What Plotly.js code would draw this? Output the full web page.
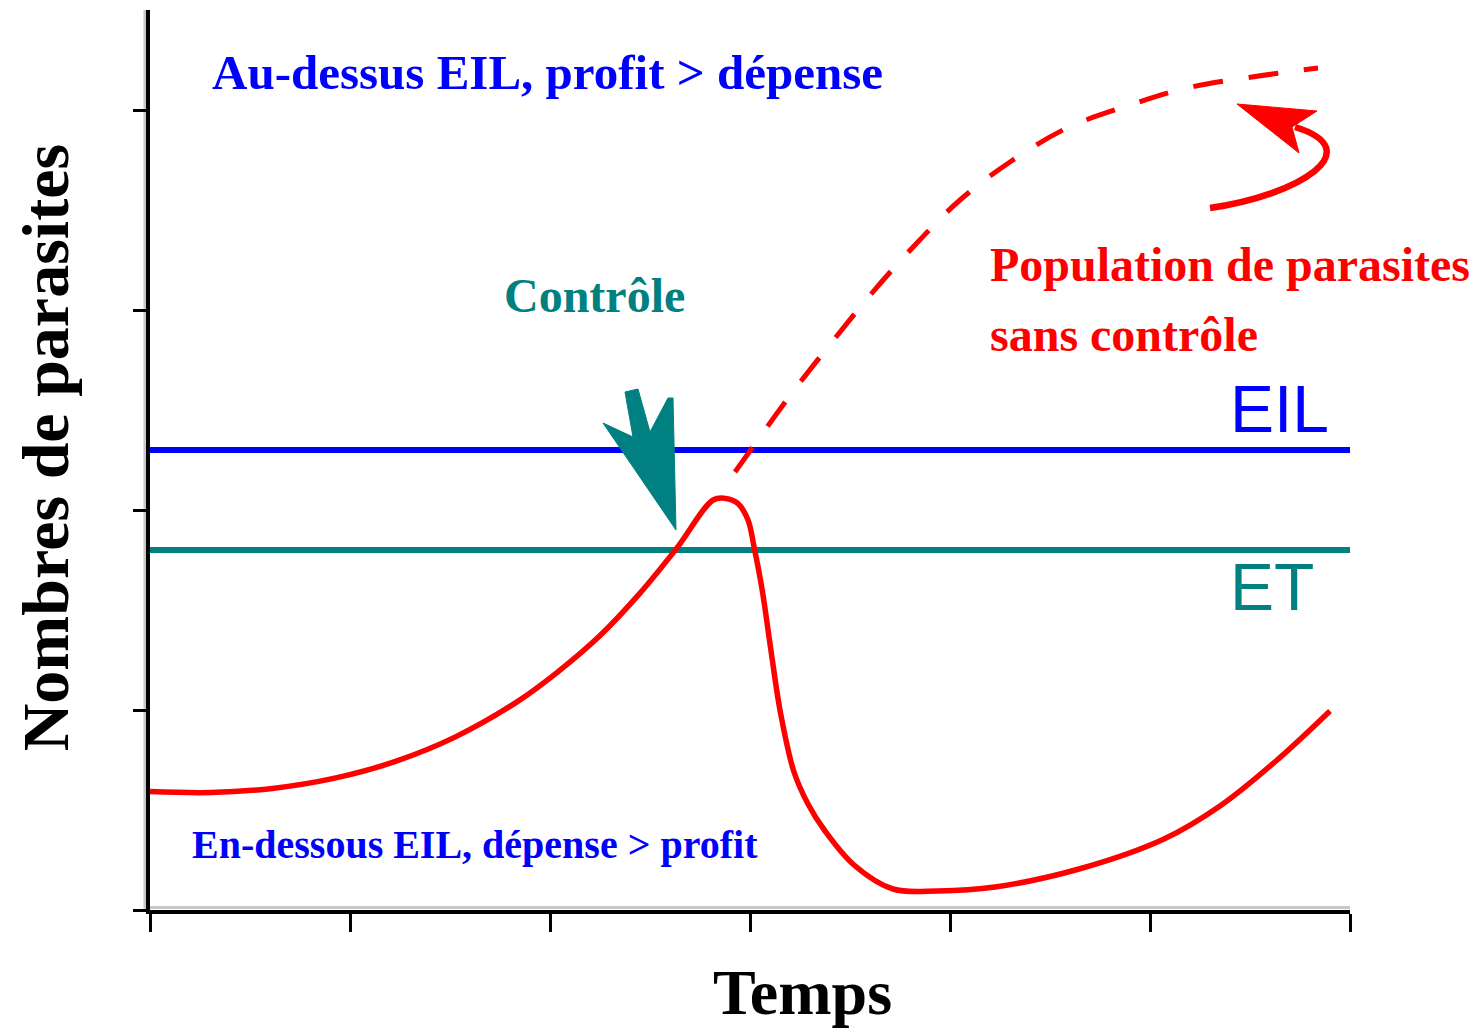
<!DOCTYPE html>
<html>
<head>
<meta charset="utf-8">
<script src="https://cdn.plot.ly/plotly-3.0.1.min.js"></script>
<style>
  html, body { margin: 0; padding: 0; background: #ffffff; }
  #chart { width: 1484px; height: 1031px; }
</style>
</head>
<body>
<div id="chart"></div>
<script>
// ---- Data ----
// Population with control (solid red)
const controlledX = [0, 0.306, 0.612, 0.918, 1.224, 1.53, 1.837, 2.041, 2.245, 2.449, 2.633, 2.816, 2.878, 2.939, 2.99, 3.02, 3.061, 3.102, 3.153, 3.22, 3.29, 3.375, 3.52, 3.715, 3.94, 4.225, 4.645, 5.07, 5.35, 5.63, 5.9];
const controlledY = [0.592, 0.587, 0.608, 0.658, 0.742, 0.867, 1.042, 1.192, 1.367, 1.583, 1.808, 2.05, 2.058, 2.033, 1.95, 1.817, 1.6, 1.317, 0.983, 0.69, 0.53, 0.395, 0.225, 0.105, 0.095, 0.115, 0.205, 0.355, 0.52, 0.745, 0.995];
// Population without control (dashed red)
const uncontrolledX = [2.925, 3.21, 3.41, 3.61, 3.825, 4.05, 4.30, 4.585, 4.885, 5.185, 5.51, 5.84];
const uncontrolledY = [2.19, 2.585, 2.84, 3.085, 3.325, 3.55, 3.74, 3.91, 4.02, 4.11, 4.165, 4.21];
// Threshold levels
const timeSpan = [0, 6];
const eilLevel = [2.3, 2.3];   // Economic injury level
const etLevel = [1.8, 1.8];    // Economic threshold
// Tick positions (no labels)
const xTicks = [0, 1, 2, 3, 4, 5, 6];
const yTicks = [0, 1, 2, 3, 4];

const RED = '#ff0000', BLUE = '#0000ff', TEAL = '#008080';
const SERIF = 'Liberation Serif, Times New Roman, serif';
const SANS = 'Liberation Sans, Arial, sans-serif';

const traces = [
  { x: timeSpan, y: eilLevel, mode: 'lines', line: { color: BLUE, width: 6 }, hoverinfo: 'skip', name: 'EIL' },
  { x: timeSpan, y: etLevel, mode: 'lines', line: { color: TEAL, width: 6 }, hoverinfo: 'skip', name: 'ET' },
  { x: uncontrolledX, y: uncontrolledY, mode: 'lines',
    line: { color: RED, width: 5, dash: '30px,26px', shape: 'spline', smoothing: 1 }, name: 'sans contrôle' },
  { x: controlledX, y: controlledY, mode: 'lines',
    line: { color: RED, width: 5.5, shape: 'spline', smoothing: 1 }, name: 'avec contrôle' }
];

function txt(text, x, y, size, color, family, xanchor, extra) {
  return Object.assign({
    text: text, x: x, y: y, xref: 'x', yref: 'y', showarrow: false,
    xanchor: xanchor || 'left', yanchor: 'middle',
    font: { family: family || SERIF, size: size, color: color, weight: 'bold' }
  }, extra || {});
}

const annotations = [
  txt('Au-dessus EIL, profit &gt; dépense', 0.3, 4.19, 49, BLUE),
  txt('En-dessous EIL, dépense &gt; profit', 0.2, 0.33, 40, BLUE),
  txt('Contrôle', 1.76, 3.075, 48, TEAL),
  txt('Population de parasites', 4.19, 3.23, 48, RED),
  txt('sans contrôle', 4.19, 2.88, 48, RED),
  { text: 'EIL', x: 5.39, y: 2.505, xref: 'x', yref: 'y', showarrow: false, xanchor: 'left', yanchor: 'middle',
    font: { family: SANS, size: 66, color: BLUE } },
  { text: 'ET', x: 5.39, y: 1.615, xref: 'x', yref: 'y', showarrow: false, xanchor: 'left', yanchor: 'middle',
    font: { family: SANS, size: 66, color: TEAL } },
  { text: 'Temps', x: 0.544, y: -0.0922, xref: 'paper', yref: 'paper', showarrow: false,
    xanchor: 'center', yanchor: 'middle', font: { family: SERIF, size: 64, color: '#000000', weight: 'bold' } },
  { text: 'Nombres de parasites', x: -0.0875, y: 0.513, xref: 'paper', yref: 'paper', showarrow: false,
    xanchor: 'center', yanchor: 'middle', textangle: -90,
    font: { family: SERIF, size: 66, color: '#000000', weight: 'bold' } }
];

const shapes = [
  // faint grey shadow of the axes
  { type: 'line', xref: 'paper', yref: 'paper', x0: -0.0042, x1: -0.0042, y0: 0, y1: 1,
    line: { color: '#c8c8c8', width: 3 }, layer: 'below' },
  { type: 'line', xref: 'paper', yref: 'paper', x0: 0, x1: 1, y0: 0.0028, y1: 0.0028,
    line: { color: '#c8c8c8', width: 3 }, layer: 'below' },
  // "Contrôle" arrow (teal, fletched block arrow)
  { type: 'path', xref: 'x', yref: 'y', layer: 'above',
    path: 'M 2.265,2.435 L 2.415,2.365 L 2.375,2.59 L 2.44,2.605 L 2.50,2.39 L 2.59,2.56 L 2.615,2.56 L 2.63,1.90 Z',
    fillcolor: TEAL, line: { color: TEAL, width: 1 } },
  // curved red arrow pointing at the dashed curve
  { type: 'path', xref: 'x', yref: 'y', layer: 'above',
    path: 'M 5.30,3.51 C 5.75,3.575 6.10,3.80 5.725,3.915',
    line: { color: RED, width: 6.5 } },
  { type: 'path', xref: 'x', yref: 'y', layer: 'above',
    path: 'M 5.435,4.03 L 5.835,3.995 L 5.71,3.915 L 5.745,3.785 Z',
    fillcolor: RED, line: { color: RED, width: 1 } }
];

const layout = {
  width: 1484, height: 1031,
  margin: { l: 150, r: 134, t: 10, b: 121, pad: 0 },
  paper_bgcolor: '#ffffff', plot_bgcolor: '#ffffff',
  showlegend: false,
  xaxis: {
    range: [0, 6], showgrid: false, zeroline: false,
    showline: true, linecolor: '#000000', linewidth: 4,
    ticks: 'outside', ticklen: 18, tickwidth: 3, tickcolor: '#000000',
    tickmode: 'array', tickvals: xTicks, showticklabels: false, fixedrange: true
  },
  yaxis: {
    range: [0, 4.5], showgrid: false, zeroline: false,
    showline: true, linecolor: '#000000', linewidth: 4,
    ticks: 'outside', ticklen: 13, tickwidth: 3, tickcolor: '#000000',
    tickmode: 'array', tickvals: yTicks, showticklabels: false, fixedrange: true
  },
  annotations: annotations,
  shapes: shapes
};

Plotly.newPlot('chart', traces, layout, { displayModeBar: false, staticPlot: true });
</script>
</body>
</html>
